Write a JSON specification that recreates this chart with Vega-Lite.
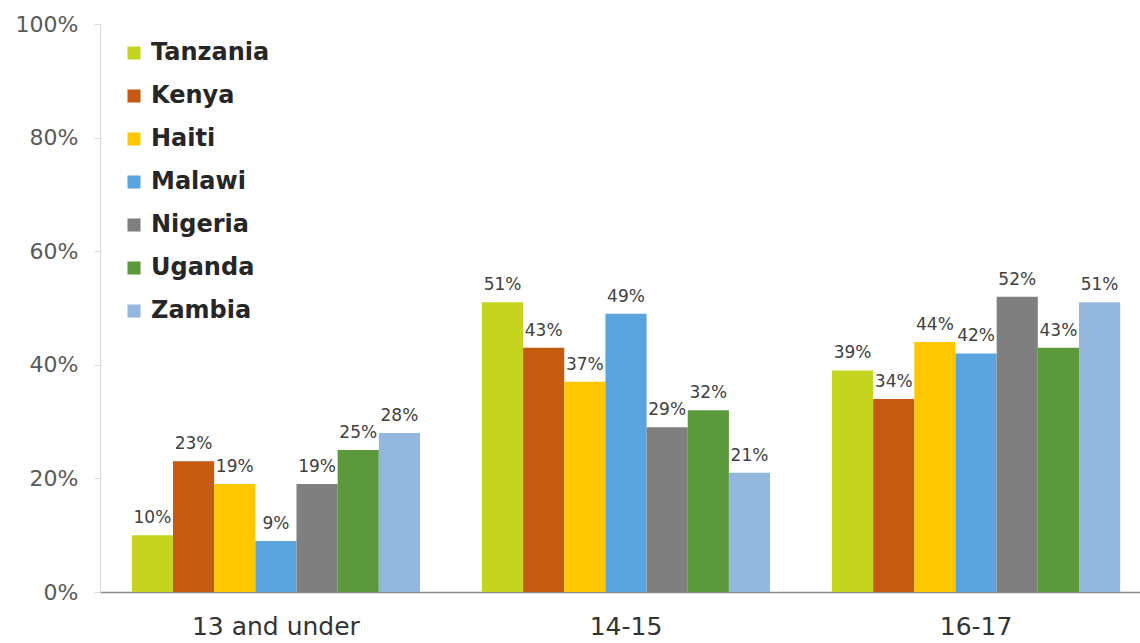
{
  "$schema": "https://vega.github.io/schema/vega-lite/v6.json",
  "width": 1040,
  "height": 568,
  "autosize": {"type": "none"},
  "padding": {"left": 100, "top": 24, "right": 0, "bottom": 51},
  "background": "white",
  "config": {
    "view": {"stroke": null},
    "font": "DejaVu Sans",
    "axis": {"grid": false, "labelFont": "DejaVu Sans", "titleFont": "DejaVu Sans"}
  },
  "data": {
    "values": [
      {"age": "13 and under", "country": "Tanzania", "value": 0.10},
      {"age": "13 and under", "country": "Kenya", "value": 0.23},
      {"age": "13 and under", "country": "Haiti", "value": 0.19},
      {"age": "13 and under", "country": "Malawi", "value": 0.09},
      {"age": "13 and under", "country": "Nigeria", "value": 0.19},
      {"age": "13 and under", "country": "Uganda", "value": 0.25},
      {"age": "13 and under", "country": "Zambia", "value": 0.28},
      {"age": "14-15", "country": "Tanzania", "value": 0.51},
      {"age": "14-15", "country": "Kenya", "value": 0.43},
      {"age": "14-15", "country": "Haiti", "value": 0.37},
      {"age": "14-15", "country": "Malawi", "value": 0.49},
      {"age": "14-15", "country": "Nigeria", "value": 0.29},
      {"age": "14-15", "country": "Uganda", "value": 0.32},
      {"age": "14-15", "country": "Zambia", "value": 0.21},
      {"age": "16-17", "country": "Tanzania", "value": 0.39},
      {"age": "16-17", "country": "Kenya", "value": 0.34},
      {"age": "16-17", "country": "Haiti", "value": 0.44},
      {"age": "16-17", "country": "Malawi", "value": 0.42},
      {"age": "16-17", "country": "Nigeria", "value": 0.52},
      {"age": "16-17", "country": "Uganda", "value": 0.43},
      {"age": "16-17", "country": "Zambia", "value": 0.51}
    ]
  },
  "encoding": {
    "x": {
      "field": "age",
      "type": "nominal",
      "sort": ["13 and under", "14-15", "16-17"],
      "scale": {"paddingInner": 0.177, "paddingOuter": 0.091, "range": [0, 1052]},
      "axis": {
        "title": null,
        "labelAngle": 0,
        "labelFontSize": 25,
        "labelColor": "#333333",
        "labelPadding": 22,
        "ticks": false,
        "domainColor": "#8c8c8c",
        "domainWidth": 1.5
      }
    },
    "xOffset": {
      "field": "country",
      "type": "nominal",
      "scale": {"domain": ["Tanzania", "Kenya", "Haiti", "Malawi", "Nigeria", "Uganda", "Zambia"], "paddingInner": 0, "paddingOuter": 0}
    },
    "y": {
      "field": "value",
      "type": "quantitative",
      "scale": {"domain": [0, 1], "nice": false},
      "axis": {
        "title": null,
        "format": ".0%",
        "values": [0, 0.2, 0.4, 0.6, 0.8, 1],
        "labelFontSize": 22,
        "labelColor": "#595959",
        "labelPadding": 16,
        "tickSize": 6,
        "tickColor": "#d9d9d9",
        "domainColor": "#d9d9d9"
      }
    }
  },
  "layer": [
    {
      "mark": {"type": "bar"},
      "encoding": {
        "color": {
          "field": "country",
          "type": "nominal",
          "scale": {
            "domain": ["Tanzania", "Kenya", "Haiti", "Malawi", "Nigeria", "Uganda", "Zambia"],
            "range": ["#c5d51f", "#c55a11", "#ffc700", "#5aa5e0", "#7f7f7f", "#5c983c", "#94b7dd"]
          },
          "legend": {
            "title": null,
            "orient": "none",
            "legendX": 22,
            "legendY": 17,
            "symbolType": "square",
            "symbolSize": 170,
            "symbolStrokeWidth": 0,
            "labelFontSize": 24,
            "labelFontWeight": "bold",
            "labelColor": "#262626",
            "labelFont": "DejaVu Sans",
            "labelOffset": 5,
            "rowPadding": 19
          }
        }
      }
    },
    {
      "mark": {"type": "text", "baseline": "bottom", "dy": -8, "fontSize": 17, "color": "#404040"},
      "encoding": {
        "text": {"field": "value", "type": "quantitative", "format": ".0%"}
      }
    }
  ]
}
